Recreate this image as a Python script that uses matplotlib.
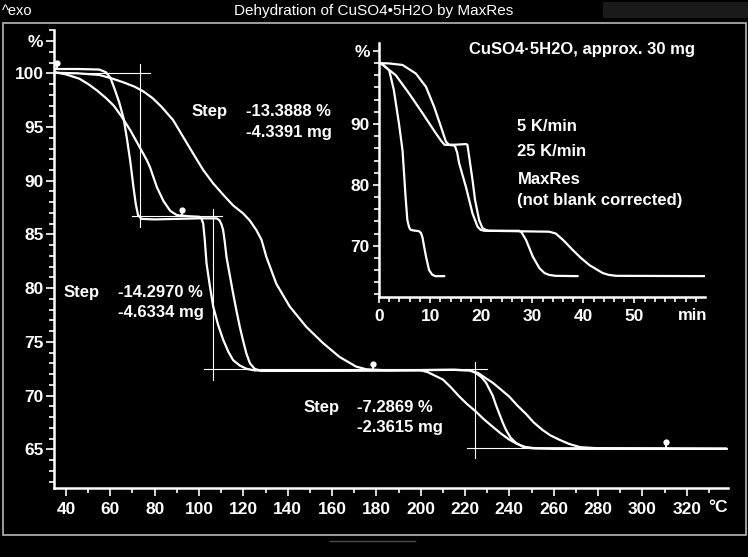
import matplotlib
matplotlib.use('Agg')
import matplotlib.pyplot as plt
from matplotlib.ticker import MultipleLocator, FixedLocator
from matplotlib.patches import Rectangle
from matplotlib.lines import Line2D

plt.rcParams['font.family'] = ['Liberation Sans', 'DejaVu Sans']

# ---- main plot: mass (%) vs temperature (°C) ----
maxres_T = [35, 45, 55, 58, 60, 62, 64, 66, 67.5, 69, 70.5, 71.5, 72.5, 74, 80, 90, 100,
            108, 109.3, 110.2, 110.9, 111.7, 112.4, 113.9, 115.4, 116.9, 118.4, 119.9,
            121.4, 123, 125.1, 128, 140, 180, 215, 222, 225, 227.5, 229.5, 231, 232.5,
            234, 235.5, 237, 238.5, 240.5, 243, 246, 250, 280, 338]
maxres_m = [100.4, 100.4, 100.35, 100.1, 99.6, 98.5, 97.3, 95.8, 93.9, 91.8, 89.3, 87.8,
            86.8, 86.45, 86.4, 86.45, 86.5, 86.5, 86.3, 85.9, 85.4, 84.2, 82.9, 81.2,
            79.5, 77.9, 76.4, 75.1, 73.9, 73.0, 72.5, 72.3, 72.3, 72.35, 72.4, 72.35,
            72.1, 71.7, 71.2, 70.6, 70.0, 69.1, 68.3, 67.5, 66.8, 66.1, 65.6, 65.25,
            65.1, 65.1, 65.05]

k5_T = [35, 40, 46, 50, 54, 58, 61.5, 65, 69, 72.5, 76.5, 78, 81, 84, 87, 90, 95, 100,
        101.1, 101.9, 102.6, 103.4, 104.9, 106.4, 108.6, 110.9, 113.2, 115.4, 118.4,
        121.4, 125, 150, 190, 200, 203, 206, 210, 213.5, 217.5, 221, 225, 228.5, 232.5,
        236, 240, 243.5, 247.5, 252, 260, 338]
k5_m = [100.1, 99.9, 99.5, 99.0, 98.4, 97.7, 97.0, 96.0, 94.7, 93.4, 91.9, 91.2, 89.4,
        88.1, 87.2, 86.8, 86.7, 86.65, 86.5, 86.0, 84.5, 82.3, 80.2, 78.3, 76.6, 75.2,
        74.1, 73.3, 72.8, 72.5, 72.35, 72.3, 72.35, 72.35, 72.2, 71.9, 71.5, 70.8,
        69.9, 69.2, 68.5, 67.8, 67.1, 66.5, 65.9, 65.5, 65.2, 65.1, 65.05, 65.05]

k25_T = [35, 45, 55, 61, 66, 71, 75, 79, 83, 88.3, 92.8, 97.3, 101.9, 106.4, 110.9, 115.4,
         119.9, 122.9, 125.9, 128.2, 130.4, 134.9, 140.9, 148.4, 155.9, 163.4, 170.9,
         175.5, 185, 215, 222, 226, 229.5, 232.5, 236, 240, 243.5, 247.5, 251, 255,
         258.5, 262.5, 267, 272, 280, 338]
k25_m = [100.05, 100.0, 99.85, 99.5, 99.15, 98.75, 98.3, 97.7, 96.9, 95.65, 94.1, 92.55,
         91.0, 89.75, 88.7, 87.7, 86.96, 86.3, 85.4, 84.5, 82.9, 80.4, 78.3, 76.4, 74.9,
         73.6, 72.7, 72.45, 72.35, 72.4, 72.35, 72.1, 71.6, 71.2, 70.6, 69.9, 69.1, 68.3,
         67.5, 66.8, 66.3, 65.9, 65.5, 65.2, 65.1, 65.05]

# step evaluation construction lines (x pairs, y pairs)
step_lines = [
    ([35.0, 77.9], [100.05, 100.05]),
    ([73.35, 73.35], [85.7, 100.9]),
    ([69.6, 110.2], [86.75, 86.75]),
    ([106.45, 106.45], [71.5, 87.4]),
    ([102.3, 229.8], [72.44, 72.44]),
    ([224.7, 224.7], [64.15, 73.15]),
    ([220.8, 338.0], [65.1, 65.1]),
]
limit_T = [35.8, 92.2, 178.4, 310.6]
limit_m = [100.45, 86.75, 72.4, 65.1]

step_labels = [('Step', '-13.3888 %', '-4.3391 mg', 96.7, 121.2, 96.4, 94.5),
               ('Step', '-14.2970 %', '-4.6334 mg', 38.8, 63.6, 79.6, 77.75),
               ('Step', '-7.2869 %', '-2.3615 mg', 147.1, 171.4, 68.87, 67.0)]

# ---- inset: mass (%) vs time (min) ----
in_fast_t = [0.3, 1.0, 2.0, 2.9, 3.9, 4.6, 4.9, 5.2, 5.55, 5.9, 6.2, 6.8, 7.8, 8.2, 8.5,
             8.8, 9.2, 9.8, 10.4, 11.0, 12.8]
in_fast_m = [100.0, 99.6, 98.8, 95.6, 90.1, 85.7, 81.9, 78.0, 74.2, 73.0, 72.6, 72.5,
             72.4, 72.1, 71.4, 70.0, 68.2, 66.0, 65.25, 65.0, 65.0]

in_k5_t = [0.3, 3.3, 5.9, 8.5, 11.1, 12.2, 12.8, 14.6, 14.9, 15.3, 15.7, 17.0, 18.3, 19.3,
           19.9, 20.6, 27.4, 27.9, 28.8, 30.1, 31.4, 32.4, 33.3, 34.5, 38.9]
in_k5_m = [100.0, 98.0, 95.0, 91.8, 88.5, 87.2, 86.6, 86.5, 86.3, 85.3, 83.5, 79.7, 75.3,
           73.1, 72.6, 72.45, 72.45, 72.2, 70.9, 68.2, 66.3, 65.5, 65.2, 65.05, 65.0]

in_mr_t = [0.3, 2.0, 4.6, 7.2, 9.2, 10.8, 12.1, 13.1, 13.7, 15.0, 17.0, 17.3, 17.65,
           18.3, 18.8, 19.6, 20.25, 21.0, 21.6, 33.3, 34.6, 36.2, 37.9, 39.5, 41.2, 43.8,
           45.0, 46.4, 64.0]
in_mr_m = [100.0, 99.95, 99.7, 98.3, 96.1, 92.8, 89.6, 87.1, 86.6, 86.6, 86.7, 86.6,
           84.6, 80.8, 77.5, 74.2, 72.9, 72.55, 72.45, 72.3, 72.0, 70.8, 69.3, 68.0, 66.8,
           65.5, 65.2, 65.05, 65.0]

inset_notes = [('5 K/min', 89.67), ('25 K/min', 85.45), ('MaxRes', 80.8),
               ('(not blank corrected)', 77.5)]

W, H = 748, 557
fig = plt.figure(figsize=(W / 100, H / 100), dpi=100, facecolor='black')


def rect(l, t, r, b):
    return [l / W, (H - b) / H, (r - l) / W, (b - t) / H]


def style_axes(ax):
    ax.set_facecolor('black')
    ax.patch.set_alpha(0)
    for s in ('top', 'right'):
        ax.spines[s].set_visible(False)
    for s in ('left', 'bottom'):
        ax.spines[s].set_color('white')
        ax.spines[s].set_linewidth(1.8)
    ax.tick_params(which='both', colors='white', direction='out', width=1.2,
                   labelsize=12.5, labelcolor='white')
    for lab in ax.get_xticklabels() + ax.get_yticklabels():
        lab.set_fontweight('bold')


txt = dict(color='white', fontsize=12, fontweight='bold', va='center')

# frame and header
fig.patches.append(Rectangle((2.5 / W, (H - 534.5) / H), 743.5 / W, 512 / H,
                             transform=fig.transFigure, fill=False,
                             edgecolor='#b8b8b8', lw=1.2))
fig.patches.append(Rectangle((603 / W, (H - 18.3) / H), 145 / W, 16.6 / H,
                             transform=fig.transFigure, facecolor='#1a1a1a',
                             edgecolor='none'))
fig.lines.append(Line2D([330 / W, 415 / W], [(H - 541) / H] * 2,
                        transform=fig.transFigure, color='#4a4a4a', lw=1))
fig.text(2 / W, 1 - 11 / H, '^exo', color='white', fontsize=10.5, va='center')
fig.text(374 / W, 1 - 11 / H, 'Dehydration of CuSO4\u20225H2O by MaxRes', color='white',
         fontsize=11, ha='center', va='center')

# main axes
ax = fig.add_axes(rect(54, 30, 727.7, 487.7))
curve_kw = dict(color='white', lw=1.6, solid_capstyle='round', solid_joinstyle='round')
ax.plot(maxres_T, maxres_m, **curve_kw)
ax.plot(k5_T, k5_m, **curve_kw)
ax.plot(k25_T, k25_m, **curve_kw)
for xs, ys in step_lines:
    ax.plot(xs, ys, color='white', lw=0.8)
for t, m in zip(limit_T, limit_m):
    ax.plot([t, t], [m, m + 0.45], color='white', lw=1.4)
    ax.plot(t, m + 0.55, 'o', color='white', ms=4.5, mec='none')
for word, pct, mg, x1, x2, y1, y2 in step_labels:
    ax.text(x1, y1, word, **txt)
    ax.text(x2, y1, pct, **txt)
    ax.text(x2, y2, mg, **txt)

ax.set_xlim(34.59, 338.5)
ax.set_ylim(61.43, 104.03)
ax.xaxis.set_major_locator(FixedLocator(list(range(40, 321, 20))))
ax.xaxis.set_minor_locator(FixedLocator(list(range(50, 331, 20))))
ax.yaxis.set_major_locator(FixedLocator([65, 70, 75, 80, 85, 90, 95, 100, 103]))
ax.set_yticklabels(['65', '70', '75', '80', '85', '90', '95', '100', '%'])
style_axes(ax)
ax.yaxis.set_minor_locator(MultipleLocator(1))
ax.tick_params(which='major', length=5.5)
ax.tick_params(which='minor', length=3.5)
ax.tick_params(axis='x', pad=5)
ax.tick_params(axis='y', pad=2)
ax.text(1.0, -0.044, '\u00b0C', transform=ax.transAxes, color='white', fontsize=12.5,
        fontweight='bold', ha='right', va='center')

# inset axes
ins = fig.add_axes(rect(379, 43.3, 705, 296.7))
ins.plot(in_fast_t, in_fast_m, **curve_kw)
ins.plot(in_k5_t, in_k5_m, **curve_kw)
ins.plot(in_mr_t, in_mr_m, **curve_kw)
ins.set_xlim(0, 63.8)
ins.set_ylim(61.62, 103.26)
ins.xaxis.set_major_locator(FixedLocator([0, 10, 20, 30, 40, 50]))
ins.xaxis.set_minor_locator(MultipleLocator(2))
ins.yaxis.set_major_locator(FixedLocator([70, 80, 90, 102]))
ins.set_yticklabels(['70', '80', '90', '%'])
style_axes(ins)
ins.yaxis.set_minor_locator(MultipleLocator(2))
ins.tick_params(which='major', length=4.5)
ins.tick_params(which='minor', length=3.5)
ins.tick_params(axis='x', pad=4)
ins.tick_params(axis='y', pad=2)
ins.text(61.4, 58.6, 'min', ha='center', **txt)
ins.text(17.6, 102.16, 'CuSO4\u00b75H2O, approx. 30 mg', **txt)
for note, y in inset_notes:
    ins.text(27.1, y, note, **txt)

fig.savefig('out.png', dpi=100, facecolor='black')
